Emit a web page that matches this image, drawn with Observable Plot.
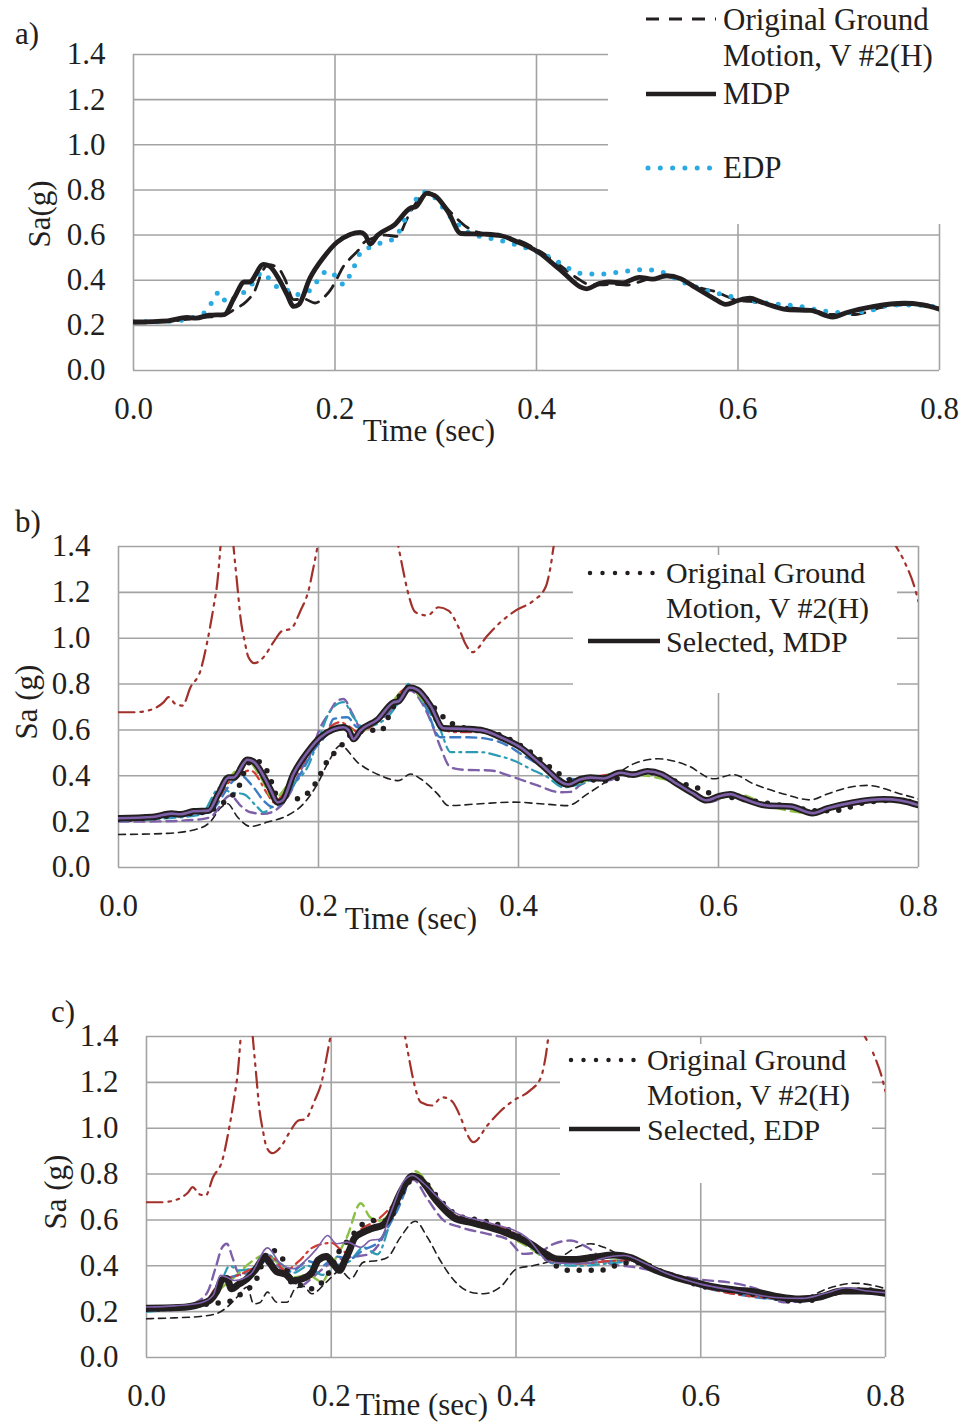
<!DOCTYPE html>
<html><head><meta charset="utf-8">
<script src="https://cdn.jsdelivr.net/npm/d3@7"></script>
<script src="https://cdn.jsdelivr.net/npm/@observablehq/plot@0.6"></script>
<style>
body{margin:0;background:#fff;}
#root{position:relative;width:964px;height:1424px;overflow:hidden;background:#fff;}
#root svg{position:absolute;left:0;}
</style></head><body><div id="root"></div>
<script>
// ---------- axis ticks ----------
const xTicks = [0, 0.2, 0.4, 0.6, 0.8];
const yTicks = [0, 0.2, 0.4, 0.6, 0.8, 1.0, 1.2, 1.4];

// ---------- shared series ----------
// Original ground motion, V #2(H)
const tOrig = [0,0.03,0.05,0.07,0.09,0.1,0.112,0.12,0.128,0.134,0.144,0.15,0.159,0.17,0.18,0.19,0.197,0.202,0.208,0.215,0.223,0.229,0.24,0.25,0.262,0.272,0.284,0.292,0.3,0.315,0.329,0.34,0.36,0.38,0.405,0.424,0.44,0.452,0.465,0.477,0.489,0.5,0.515,0.53,0.545,0.56,0.579,0.589,0.6,0.612,0.622,0.635,0.649,0.659,0.675,0.694,0.705,0.717,0.729,0.74,0.76,0.78,0.8];
const saOrig = [0.21,0.215,0.225,0.235,0.245,0.27,0.306,0.35,0.44,0.469,0.452,0.408,0.314,0.316,0.299,0.328,0.367,0.408,0.459,0.496,0.532,0.568,0.59,0.6,0.594,0.677,0.765,0.79,0.77,0.7,0.641,0.615,0.6,0.58,0.524,0.463,0.41,0.382,0.38,0.382,0.378,0.39,0.41,0.415,0.4,0.37,0.347,0.328,0.31,0.306,0.299,0.29,0.28,0.274,0.265,0.248,0.248,0.248,0.26,0.277,0.29,0.295,0.275];
// MDP
const tMDP = [0,0.034,0.053,0.062,0.075,0.09,0.1,0.11,0.115,0.129,0.135,0.145,0.152,0.159,0.164,0.175,0.189,0.202,0.215,0.225,0.23,0.235,0.242,0.259,0.275,0.28,0.291,0.299,0.312,0.325,0.349,0.365,0.382,0.402,0.422,0.45,0.462,0.472,0.485,0.502,0.515,0.529,0.543,0.555,0.575,0.588,0.6,0.612,0.622,0.649,0.672,0.694,0.709,0.735,0.765,0.782,0.8];
const saMDP = [0.215,0.22,0.235,0.232,0.245,0.248,0.322,0.392,0.392,0.47,0.462,0.4,0.34,0.284,0.292,0.408,0.503,0.568,0.603,0.612,0.6,0.56,0.598,0.645,0.72,0.725,0.785,0.775,0.705,0.607,0.604,0.597,0.568,0.524,0.452,0.362,0.385,0.392,0.388,0.413,0.405,0.42,0.407,0.375,0.322,0.293,0.31,0.32,0.305,0.27,0.266,0.237,0.258,0.284,0.298,0.292,0.272];
// EDP
const tEDP = [0,0.035,0.058,0.069,0.076,0.082,0.087,0.092,0.1,0.109,0.118,0.128,0.134,0.141,0.151,0.159,0.17,0.179,0.186,0.195,0.202,0.209,0.215,0.22,0.225,0.234,0.244,0.256,0.263,0.268,0.275,0.28,0.287,0.294,0.303,0.31,0.318,0.326,0.335,0.35,0.371,0.392,0.414,0.433,0.444,0.463,0.484,0.506,0.525,0.546,0.569,0.591,0.614,0.637,0.66,0.684,0.707,0.73,0.753,0.775,0.8];
const saEDP = [0.215,0.218,0.233,0.251,0.288,0.34,0.345,0.3,0.32,0.344,0.384,0.435,0.41,0.374,0.362,0.335,0.345,0.37,0.425,0.44,0.41,0.38,0.425,0.47,0.52,0.545,0.563,0.578,0.61,0.657,0.72,0.755,0.79,0.785,0.746,0.705,0.665,0.632,0.605,0.59,0.568,0.54,0.5,0.45,0.43,0.427,0.437,0.447,0.435,0.39,0.355,0.33,0.308,0.295,0.285,0.265,0.255,0.265,0.29,0.29,0.28];
// dark red dash-dot-dot record (goes off scale)
const tBrown = [0,0.015,0.03,0.045,0.05,0.057,0.064,0.072,0.082,0.089,0.095,0.099,0.102,0.108,0.115,0.119,0.122,0.126,0.13,0.136,0.145,0.155,0.164,0.172,0.182,0.19,0.195,0.2,0.24,0.279,0.284,0.289,0.297,0.309,0.32,0.33,0.34,0.347,0.354,0.369,0.382,0.397,0.415,0.427,0.432,0.436,0.5,0.6,0.7,0.775,0.787,0.795,0.8];
const saBrown = [0.677,0.677,0.685,0.72,0.743,0.713,0.706,0.786,0.859,0.99,1.135,1.25,1.4,1.75,1.4,1.222,1.09,0.99,0.917,0.891,0.917,0.983,1.033,1.04,1.12,1.208,1.31,1.42,2.2,1.42,1.31,1.208,1.113,1.099,1.135,1.12,1.048,0.975,0.939,1.012,1.07,1.12,1.164,1.222,1.31,1.42,2.0,2.1,1.9,1.42,1.324,1.237,1.16];

// ---------- panel b records ----------
const tB1 = [0,0.049,0.079,0.092,0.102,0.109,0.119,0.132,0.149,0.169,0.185,0.199,0.209,0.222,0.239,0.262,0.28,0.292,0.302,0.319,0.33,0.362,0.395,0.425,0.449,0.469,0.492,0.515,0.539,0.569,0.595,0.615,0.635,0.665,0.692,0.709,0.735,0.749,0.782,0.8];
const saB1 = [0.144,0.149,0.168,0.2,0.26,0.278,0.22,0.179,0.198,0.227,0.278,0.365,0.452,0.532,0.459,0.401,0.379,0.408,0.387,0.321,0.27,0.278,0.285,0.277,0.27,0.321,0.387,0.452,0.474,0.445,0.387,0.405,0.365,0.321,0.295,0.321,0.353,0.358,0.321,0.299];
const tB2 = [0,0.039,0.082,0.092,0.112,0.122,0.132,0.145,0.159,0.172,0.182,0.192,0.202,0.21,0.219,0.225,0.234,0.242,0.255,0.269,0.282,0.292,0.302,0.312,0.322,0.332,0.345,0.372,0.395,0.419,0.442,0.452,0.462,0.475,0.49,0.505,0.53,0.555,0.575,0.59,0.61,0.625,0.65,0.672,0.694,0.71,0.735,0.765,0.785,0.8];
const saB2 = [0.2,0.201,0.21,0.22,0.314,0.27,0.241,0.234,0.256,0.328,0.423,0.496,0.612,0.67,0.728,0.735,0.67,0.612,0.627,0.67,0.735,0.772,0.728,0.641,0.524,0.437,0.426,0.423,0.394,0.358,0.328,0.33,0.36,0.38,0.38,0.405,0.41,0.37,0.315,0.285,0.31,0.3,0.265,0.26,0.232,0.25,0.275,0.29,0.285,0.265];
const tB3 = [0,0.05,0.082,0.102,0.112,0.125,0.139,0.145,0.159,0.175,0.189,0.202,0.212,0.225,0.235,0.245,0.265,0.28,0.29,0.305,0.322,0.332,0.362,0.379,0.395,0.412,0.429,0.445,0.459,0.475,0.5,0.53,0.555,0.575,0.59,0.61,0.625,0.65,0.672,0.694,0.71,0.735,0.765,0.785,0.8];
const saB3 = [0.205,0.215,0.23,0.35,0.328,0.32,0.263,0.241,0.292,0.365,0.437,0.583,0.685,0.721,0.655,0.612,0.641,0.72,0.801,0.714,0.597,0.503,0.503,0.488,0.467,0.43,0.394,0.35,0.36,0.385,0.405,0.415,0.372,0.32,0.295,0.315,0.3,0.27,0.262,0.238,0.262,0.285,0.298,0.29,0.272];
const tB4 = [0,0.05,0.09,0.115,0.122,0.135,0.145,0.155,0.182,0.195,0.209,0.215,0.229,0.239,0.26,0.275,0.29,0.305,0.322,0.349,0.369,0.389,0.405,0.425,0.442,0.46,0.48,0.5,0.53,0.555,0.575,0.59,0.61,0.625,0.65,0.672,0.694,0.71,0.735,0.765,0.785,0.8];
const saB4 = [0.21,0.222,0.24,0.379,0.401,0.35,0.292,0.263,0.408,0.51,0.59,0.648,0.655,0.612,0.64,0.715,0.79,0.72,0.568,0.568,0.561,0.532,0.488,0.437,0.387,0.385,0.39,0.41,0.415,0.37,0.318,0.29,0.318,0.302,0.268,0.262,0.236,0.258,0.286,0.298,0.29,0.27];
const tB5 = [0,0.05,0.09,0.11,0.132,0.149,0.155,0.175,0.2,0.222,0.229,0.24,0.26,0.29,0.31,0.325,0.339,0.362,0.392,0.42,0.45,0.47,0.5,0.53,0.555,0.575,0.59,0.61,0.625,0.65,0.672,0.694,0.71,0.735,0.765,0.785,0.8];
const saB5 = [0.212,0.23,0.245,0.37,0.423,0.321,0.285,0.39,0.56,0.634,0.62,0.59,0.64,0.785,0.7,0.6,0.59,0.59,0.546,0.46,0.36,0.39,0.41,0.418,0.372,0.32,0.292,0.318,0.303,0.268,0.264,0.236,0.258,0.284,0.297,0.29,0.27];
const tB6 = [0,0.05,0.09,0.11,0.13,0.142,0.155,0.175,0.2,0.225,0.24,0.26,0.29,0.31,0.33,0.36,0.39,0.42,0.45,0.5,0.55,0.59,0.62,0.65,0.69,0.73,0.77,0.8];
const saB6 = [0.214,0.232,0.246,0.385,0.46,0.394,0.3,0.4,0.565,0.61,0.592,0.645,0.783,0.7,0.603,0.598,0.55,0.46,0.365,0.41,0.38,0.295,0.318,0.27,0.238,0.28,0.298,0.272];

// ---------- panel c records ----------
const tC1 = [0,0.03,0.058,0.077,0.087,0.098,0.109,0.116,0.123,0.131,0.141,0.152,0.161,0.17,0.179,0.195,0.21,0.221,0.235,0.25,0.261,0.275,0.291,0.304,0.318,0.333,0.351,0.365,0.383,0.401,0.419,0.448,0.466,0.481,0.495,0.52,0.542,0.571,0.607,0.643,0.686,0.715,0.737,0.766,0.787,0.8];
const saC1 = [0.169,0.173,0.179,0.193,0.219,0.263,0.307,0.234,0.24,0.285,0.241,0.241,0.3,0.31,0.278,0.33,0.379,0.343,0.416,0.423,0.437,0.525,0.594,0.525,0.423,0.336,0.285,0.278,0.307,0.387,0.401,0.437,0.481,0.496,0.481,0.43,0.401,0.358,0.314,0.278,0.26,0.266,0.3,0.324,0.314,0.3];
const tC2 = [0,0.03,0.051,0.066,0.075,0.082,0.087,0.093,0.098,0.106,0.116,0.129,0.14,0.152,0.167,0.18,0.195,0.21,0.225,0.24,0.253,0.261,0.282,0.289,0.304,0.322,0.34,0.369,0.39,0.408,0.425,0.441,0.459,0.477,0.502,0.528,0.56,0.6,0.636,0.66,0.69,0.72,0.76,0.78,0.8];
const saC2 = [0.205,0.21,0.234,0.285,0.394,0.481,0.496,0.437,0.379,0.35,0.38,0.452,0.41,0.358,0.314,0.35,0.4,0.43,0.44,0.45,0.503,0.568,0.757,0.775,0.692,0.597,0.568,0.539,0.517,0.452,0.46,0.496,0.51,0.481,0.409,0.394,0.37,0.34,0.324,0.3,0.241,0.25,0.3,0.29,0.283];
const tC3 = [0,0.03,0.06,0.072,0.08,0.087,0.095,0.113,0.131,0.145,0.159,0.174,0.185,0.196,0.206,0.217,0.232,0.242,0.253,0.264,0.279,0.288,0.3,0.315,0.333,0.369,0.412,0.437,0.46,0.477,0.491,0.517,0.54,0.564,0.6,0.64,0.68,0.71,0.735,0.758,0.78,0.8];
const saC3 = [0.22,0.225,0.24,0.27,0.358,0.35,0.336,0.365,0.478,0.409,0.387,0.43,0.478,0.532,0.496,0.503,0.481,0.51,0.517,0.627,0.772,0.794,0.76,0.7,0.634,0.59,0.522,0.416,0.41,0.411,0.43,0.445,0.41,0.365,0.32,0.29,0.262,0.258,0.28,0.304,0.29,0.283];
const tC4 = [0,0.03,0.06,0.08,0.095,0.113,0.13,0.145,0.16,0.175,0.19,0.2,0.217,0.232,0.242,0.253,0.268,0.291,0.307,0.326,0.351,0.38,0.41,0.44,0.47,0.5,0.53,0.56,0.6,0.64,0.68,0.71,0.74,0.77,0.8];
const saC4 = [0.21,0.215,0.228,0.3,0.35,0.416,0.45,0.4,0.35,0.36,0.33,0.4,0.525,0.673,0.612,0.597,0.655,0.812,0.743,0.641,0.583,0.55,0.49,0.42,0.41,0.42,0.43,0.37,0.32,0.285,0.258,0.25,0.275,0.295,0.285];
const tC5 = [0,0.03,0.06,0.08,0.09,0.1,0.115,0.13,0.145,0.16,0.175,0.19,0.205,0.22,0.235,0.25,0.265,0.29,0.31,0.33,0.36,0.39,0.42,0.44,0.47,0.5,0.53,0.56,0.6,0.64,0.68,0.71,0.74,0.77,0.8];
const saC5 = [0.2,0.21,0.225,0.32,0.4,0.38,0.39,0.45,0.41,0.37,0.4,0.36,0.4,0.42,0.48,0.45,0.6,0.79,0.7,0.62,0.58,0.55,0.47,0.41,0.4,0.41,0.42,0.37,0.31,0.28,0.255,0.25,0.27,0.292,0.283];
const tC6 = [0,0.03,0.06,0.08,0.1,0.12,0.13,0.145,0.16,0.175,0.19,0.205,0.22,0.235,0.25,0.27,0.29,0.31,0.33,0.36,0.39,0.42,0.44,0.47,0.5,0.53,0.56,0.6,0.64,0.68,0.71,0.74,0.77,0.8];
const saC6 = [0.205,0.212,0.226,0.33,0.36,0.38,0.43,0.37,0.38,0.42,0.4,0.44,0.43,0.47,0.5,0.63,0.785,0.71,0.63,0.58,0.55,0.48,0.42,0.41,0.42,0.425,0.37,0.31,0.275,0.255,0.252,0.272,0.293,0.283];
const tC7 = [0,0.03,0.06,0.08,0.1,0.12,0.135,0.15,0.165,0.18,0.2,0.215,0.23,0.25,0.27,0.29,0.31,0.33,0.36,0.39,0.42,0.44,0.47,0.5,0.53,0.56,0.6,0.64,0.68,0.71,0.74,0.77,0.8];
const saC7 = [0.21,0.215,0.228,0.33,0.36,0.4,0.44,0.38,0.42,0.48,0.5,0.46,0.55,0.6,0.68,0.78,0.71,0.63,0.59,0.56,0.48,0.42,0.41,0.42,0.425,0.37,0.31,0.275,0.258,0.25,0.27,0.292,0.283];

// ---------- styles ----------
const INK = "#231f20", GRID = "#a3a3a3";
const FONT = "'Liberation Serif','Times New Roman',serif";
const FS = 31;
const st = {
  brown:  {stroke:"#a3312b", strokeWidth:2.2, strokeDasharray:"16,6,2.5,6,2.5,6"},
  thinDash:{stroke:INK, strokeWidth:1.6, strokeDasharray:"7,5"},
  purpleDash:{stroke:"#7e60a8", strokeWidth:2.4, strokeDasharray:"10,6"},
  teal:   {stroke:"#2d9bb4", strokeWidth:2.2, strokeDasharray:"11,5,2,5"},
  blue:   {stroke:"#3b7cc4", strokeWidth:2.4, strokeDasharray:"10,6"},
  red:    {stroke:"#d03c35", strokeWidth:2.2, strokeDasharray:"10,5,2,5"},
  green:  {stroke:"#8cbf45", strokeWidth:2.4, strokeDasharray:"10,6"},
  origDots:{stroke:INK, strokeWidth:5.5, strokeDasharray:"0,12", strokeLinecap:"round"},
  blackThick:{stroke:INK, strokeWidth:6.5, strokeLinejoin:"round", strokeLinecap:"round"},
  blackThickC:{stroke:INK, strokeWidth:7, strokeLinejoin:"round", strokeLinecap:"round"},
  purpleSolid:{stroke:"#7e60a8", strokeWidth:2.6},
  purpleThin:{stroke:"#7e60a8", strokeWidth:1.6},
  origDash:{stroke:INK, strokeWidth:2.8, strokeDasharray:"13,9"},
  mdpA:{stroke:INK, strokeWidth:4.8, strokeLinejoin:"round"},
  edpA:{stroke:"#29aae1", strokeWidth:5, strokeDasharray:"0,12", strokeLinecap:"round"}
};

function series(ts, vs, style){
  const data = ts.map((t,i)=>({t, v: vs[i]}));
  return Plot.line(data, {x:"t", y:"v", curve:"monotone-x", clip:true, ...style});
}

function panel({top, height, mt, mb, ml, mr, lines}){
  const p = Plot.plot({
    width: 964, height, marginTop: mt, marginBottom: mb, marginLeft: ml, marginRight: mr,
    x: {domain:[0,0.8]}, y: {domain:[0,1.4]},
    style: {fontFamily: FONT, fontSize: FS+"px", color: INK, background: "transparent", overflow:"visible"},
    marks: [
      Plot.gridX(xTicks, {stroke:GRID, strokeOpacity:1, strokeWidth:1.6}),
      Plot.gridY(yTicks, {stroke:GRID, strokeOpacity:1, strokeWidth:1.6}),
      ...lines,
      Plot.axisX(xTicks, {tickSize:0, tickPadding:26, tickFormat:d=>d.toFixed(1), fontSize:FS, fill:INK, label:null}),
      Plot.axisY(yTicks, {tickSize:0, tickPadding:28, tickFormat:d=>d.toFixed(1), fontSize:FS, fill:INK, label:null})
    ]
  });
  p.style.top = top + "px";
  return p;
}

const root = document.getElementById("root");
root.appendChild(panel({top:0, height:460, mt:54, mb:90, ml:133, mr:25, lines:[
  series(tOrig, saOrig, st.origDash),
  series(tEDP, saEDP, st.edpA),
  series(tMDP, saMDP, st.mdpA)
]}));
root.appendChild(panel({top:470, height:480, mt:76, mb:83, ml:118, mr:46, lines:[
  series(tBrown, saBrown, st.brown),
  series(tB1, saB1, st.thinDash),
  series(tB2, saB2, st.purpleDash),
  series(tB3, saB3, st.teal),
  series(tB4, saB4, st.blue),
  series(tB5, saB5, st.red),
  series(tB6, saB6, st.green),
  series(tOrig, saOrig, st.origDots),
  series(tMDP, saMDP, st.blackThick),
  series(tMDP, saMDP, st.purpleSolid)
]}));
root.appendChild(panel({top:960, height:464, mt:76, mb:67, ml:146, mr:79, lines:[
  series(tBrown, saBrown, st.brown),
  series(tC1, saC1, st.thinDash),
  series(tC2, saC2, st.purpleDash),
  series(tC4, saC4, st.green),
  series(tC5, saC5, st.teal),
  series(tC6, saC6, st.blue),
  series(tC7, saC7, st.red),
  series(tOrig, saOrig, st.origDots),
  series(tEDP, saEDP, st.blackThickC),
  series(tC3, saC3, st.purpleThin)
]}));

// ---------- overlay: legends and labels ----------
const ov = d3.select(root).append("svg").attr("width",964).attr("height",1424).style("top","0px")
  .attr("font-family", FONT).attr("font-size", FS).attr("fill", INK);

function legend(box, items, fs){
  ov.append("rect").attr("x",box[0]).attr("y",box[1]).attr("width",box[2]-box[0]).attr("height",box[3]-box[1]).attr("fill","#fff");
  for (const it of items){
    if (it.line){
      const s = it.line;
      ov.append("line").attr("x1",it.x1).attr("x2",it.x2).attr("y1",it.ly).attr("y2",it.ly)
        .attr("stroke",s.stroke).attr("stroke-width",s.strokeWidth)
        .attr("stroke-dasharray",s.strokeDasharray||null).attr("stroke-linecap",s.strokeLinecap||"butt");
    }
    if (it.text) ov.append("text").attr("x",it.tx).attr("y",it.ty).attr("font-size",fs).text(it.text);
  }
}
const origLeg = {stroke:INK, strokeWidth:4.5, strokeDasharray:"0,12.5", strokeLinecap:"round"};
legend([608,0,964,224], [
  {line:{stroke:INK, strokeWidth:3, strokeDasharray:"13,10"}, x1:646, x2:716, ly:19, text:"Original Ground", tx:723, ty:30},
  {text:"Motion, V #2(H)", tx:723, ty:66},
  {line:{stroke:INK, strokeWidth:4.5}, x1:646, x2:716, ly:94, text:"MDP", tx:723, ty:104},
  {line:{stroke:"#29aae1", strokeWidth:5, strokeDasharray:"0,12.3", strokeLinecap:"round"}, x1:648, x2:712, ly:168, text:"EDP", tx:723, ty:178}
], 31);
legend([573,555,897,693], [
  {line:origLeg, x1:590, x2:653, ly:573, text:"Original Ground", tx:666, ty:583},
  {text:"Motion, V #2(H)", tx:666, ty:618},
  {line:{stroke:INK, strokeWidth:4.5}, x1:588, x2:660, ly:641, text:"Selected, MDP", tx:666, ty:652}
], 30);
legend([560,1044,872,1183], [
  {line:origLeg, x1:571, x2:634, ly:1060, text:"Original Ground", tx:647, ty:1070},
  {text:"Motion, V #2(H)", tx:647, ty:1105},
  {line:{stroke:INK, strokeWidth:4.5}, x1:569, x2:640, ly:1129, text:"Selected, EDP", tx:647, ty:1140}
], 30);

const labels = [
  {t:"a)", x:15, y:44}, {t:"b)", x:15, y:532}, {t:"c)", x:51, y:1022},
  {t:"Time (sec)", x:429, y:441, a:"middle"},
  {t:"Time (sec)", x:411, y:929, a:"middle"},
  {t:"Time (sec)", x:422, y:1415, a:"middle"}
];
for (const l of labels) ov.append("text").attr("x",l.x).attr("y",l.y).attr("text-anchor",l.a||"start").text(l.t);
const ylabs = [{t:"Sa(g)", x:41, y:214}, {t:"Sa (g)", x:28, y:702}, {t:"Sa (g)", x:57, y:1192}];
for (const l of ylabs) ov.append("text").attr("transform",`translate(${l.x},${l.y}) rotate(-90)`)
  .attr("text-anchor","middle").attr("dy","0.3em").text(l.t);
</script></body></html>
